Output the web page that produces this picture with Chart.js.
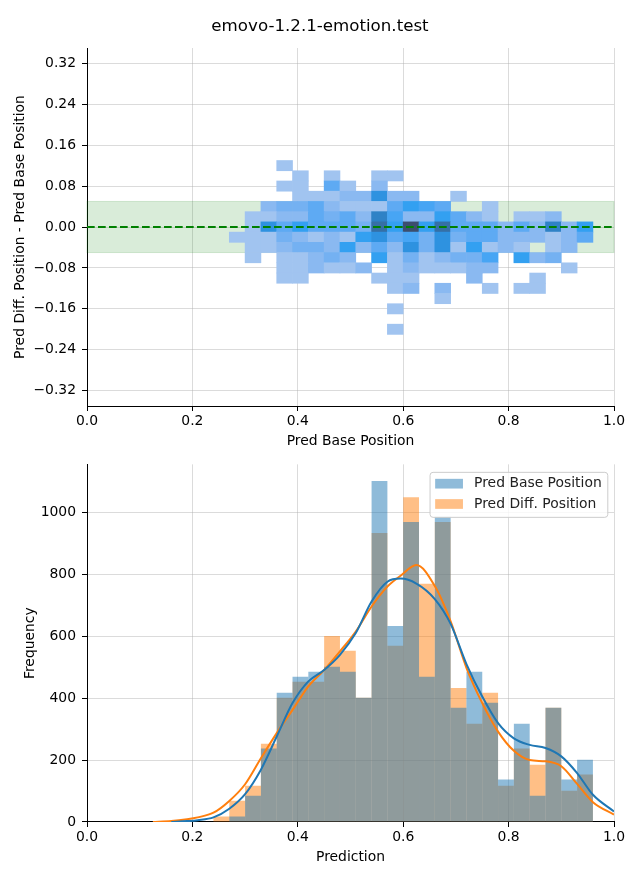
<!DOCTYPE html>
<html lang="en">
<head>
<meta charset="utf-8">
<title>emovo-1.2.1-emotion.test</title>
<script src="https://cdn.jsdelivr.net/npm/chart.js@4.4.1/dist/chart.umd.min.js"></script>
<style>
  body { margin: 0; background: #fff; }
  #figure { position: relative; width: 640px; height: 880px; }
  #figure canvas { position: absolute; left: 0; }
  #diffChart { top: 0; }
  #histChart { top: 450px; }
  #figTitle {
    position: absolute; left: 0; top: 16px; width: 640px;
    font: 16.67px/20px 'DejaVu Sans', sans-serif; color: #000;
    text-align: center; z-index: 2;
  }
</style>
</head>
<body>
<div id="figure">
  <canvas id="diffChart" width="640" height="450"></canvas>
  <canvas id="histChart" width="640" height="430"></canvas>
  <div id="figTitle"></div>
</div>
<script>
// ---- data ----
const figureTitle = "emovo-1.2.1-emotion.test";

// top panel: 2D histogram (bin centres)
const basePosBins = [0.285, 0.315, 0.345, 0.375, 0.405, 0.435, 0.465, 0.495, 0.525, 0.555, 0.585, 0.615,
  0.645, 0.675, 0.705, 0.735, 0.765, 0.795, 0.825, 0.855, 0.885, 0.915, 0.945];
const diffBins = [0.12, 0.10, 0.08, 0.06, 0.04, 0.02, 0.00, -0.02, -0.04, -0.06, -0.08, -0.10, -0.12,
  -0.14, -0.16, -0.18, -0.20];
// shade level of each cell (0 = empty), one row per diffBins entry, one column per basePosBins entry
const cellLevels = [
  [0, 0, 0, 1, 0, 0, 0, 0, 0, 0, 0, 0, 0, 0, 0, 0, 0, 0, 0, 0, 0, 0, 0],
  [0, 0, 0, 0, 1, 0, 1, 0, 0, 1, 1, 0, 0, 0, 0, 0, 0, 0, 0, 0, 0, 0, 0],
  [0, 0, 0, 1, 1, 0, 4, 1, 0, 2, 0, 0, 0, 0, 0, 0, 0, 0, 0, 0, 0, 0, 0],
  [0, 0, 0, 0, 1, 1, 1, 2, 2, 7, 2, 2, 0, 0, 1, 0, 0, 0, 0, 0, 0, 0, 0],
  [0, 0, 2, 3, 3, 4, 2, 1, 1, 1, 4, 6, 5, 4, 0, 0, 1, 0, 0, 0, 0, 0, 0],
  [0, 1, 1, 2, 2, 4, 3, 4, 2, 8, 5, 2, 2, 6, 4, 2, 1, 0, 1, 1, 2, 0, 0],
  [0, 1, 7, 4, 6, 4, 4, 4, 3, 9, 6, 10, 6, 9, 4, 4, 4, 2, 4, 2, 8, 2, 6],
  [1, 1, 1, 3, 2, 1, 2, 1, 6, 7, 4, 5, 3, 7, 3, 4, 4, 2, 2, 2, 1, 2, 4],
  [0, 1, 1, 2, 3, 3, 2, 6, 2, 4, 2, 7, 3, 7, 1, 6, 1, 2, 1, 0, 1, 2, 0],
  [0, 1, 0, 1, 1, 2, 3, 2, 0, 6, 1, 3, 1, 2, 3, 3, 5, 0, 6, 2, 3, 0, 0],
  [0, 0, 0, 1, 1, 2, 1, 1, 2, 0, 1, 2, 1, 1, 1, 2, 2, 0, 0, 0, 0, 1, 0],
  [0, 0, 0, 1, 1, 0, 0, 0, 0, 1, 1, 1, 0, 0, 0, 2, 0, 0, 0, 1, 0, 0, 0],
  [0, 0, 0, 0, 0, 0, 0, 0, 0, 0, 1, 2, 0, 2, 0, 0, 1, 0, 1, 1, 0, 0, 0],
  [0, 0, 0, 0, 0, 0, 0, 0, 0, 0, 0, 0, 0, 1, 0, 0, 0, 0, 0, 0, 0, 0, 0],
  [0, 0, 0, 0, 0, 0, 0, 0, 0, 0, 1, 0, 0, 0, 0, 0, 0, 0, 0, 0, 0, 0, 0],
  [0, 0, 0, 0, 0, 0, 0, 0, 0, 0, 0, 0, 0, 0, 0, 0, 0, 0, 0, 0, 0, 0, 0],
  [0, 0, 0, 0, 0, 0, 0, 0, 0, 0, 1, 0, 0, 0, 0, 0, 0, 0, 0, 0, 0, 0, 0],
];
const toleranceBand = [-0.05, 0.05];
const diffTicks = [-0.32, -0.24, -0.16, -0.08, 0, 0.08, 0.16, 0.24, 0.32];
const posTicks = [0, 0.2, 0.4, 0.6, 0.8, 1.0];

// bottom panel: histograms + kde
const predBins = [0.255, 0.285, 0.315, 0.345, 0.375, 0.405, 0.435, 0.465, 0.495, 0.525, 0.555, 0.585,
  0.615, 0.645, 0.675, 0.705, 0.735, 0.765, 0.795, 0.825, 0.855, 0.885, 0.915, 0.945];
const baseCounts = [0, 18, 85, 237, 417, 469, 485, 501, 485, 401, 1101, 633,
  969, 469, 986, 369, 485, 385, 137, 317, 85, 369, 137, 201];
const diffCounts = [18, 69, 117, 253, 401, 453, 453, 601, 553, 401, 933, 569,
  1049, 769, 969, 433, 317, 417, 117, 237, 185, 369, 101, 153];
const kdeX = [0.125, 0.16, 0.19, 0.21, 0.24, 0.27, 0.30, 0.33, 0.36, 0.39, 0.42, 0.45, 0.48, 0.51, 0.54,
  0.57, 0.595, 0.625, 0.66, 0.69, 0.72, 0.75, 0.78, 0.81, 0.84, 0.87, 0.90, 0.93, 0.96, 1.0];
const baseKde = [null, 0, 3, 6, 15, 43, 90, 169, 276, 384, 454, 491, 540, 610, 712,
  776, 786, 770, 720, 640, 510, 405, 319, 270, 249, 239, 212, 158, 88, 34];
const diffKde = [0, 3, 9, 15, 30, 68, 122, 206, 287, 362, 438, 491, 551, 615, 696,
  760, 795, 830, 762, 648, 498, 384, 292, 230, 200, 196, 180, 123, 64, 24];
const countTicks = [0, 200, 400, 600, 800, 1000];

// ---- styles ----
const fontFamily = "'DejaVu Sans', sans-serif";
const axisFont = { family: fontFamily, size: 13.9 };
const heatPalette = ['#a1c4f0', '#8ab9f1', '#74b1f2', '#5eaaf3', '#47a5f4', '#33a0f1',
  '#2e92e0', '#2f82c6', '#3570a6', '#3c4e6e'];
const gridColor = 'rgba(176,176,176,0.45)';

Chart.defaults.font.family = fontFamily;
Chart.defaults.color = '#000';

document.getElementById('figTitle').textContent = figureTitle;

function grid() {
  return { color: gridColor, lineWidth: 1, tickColor: '#000', tickLength: 5, tickWidth: 1, offset: false };
}

function useTicks(values) {
  return (scale) => { scale.ticks = values.map(v => ({ value: v })); };
}

// green band + dashed zero line
const bandPlugin = {
  id: 'bandPlugin',
  beforeDatasetsDraw(chart) {
    const { ctx, chartArea, scales } = chart;
    const top = scales.y.getPixelForValue(toleranceBand[1]);
    const bottom = scales.y.getPixelForValue(toleranceBand[0]);
    ctx.save();
    ctx.fillStyle = 'rgba(0,128,0,0.15)';
    ctx.strokeStyle = 'rgba(0,128,0,0.15)';
    ctx.lineWidth = 1;
    ctx.fillRect(chartArea.left, top, chartArea.width, bottom - top);
    ctx.strokeRect(chartArea.left, top, chartArea.width, bottom - top);
    ctx.restore();
  },
  afterDraw(chart) {
    const { ctx, chartArea, scales } = chart;
    const y0 = scales.y.getPixelForValue(0);
    ctx.save();
    ctx.beginPath();
    ctx.rect(chartArea.left, chartArea.top, chartArea.width, chartArea.height);
    ctx.clip();
    ctx.strokeStyle = '#008000';
    ctx.lineWidth = 2;
    ctx.setLineDash([7.7, 3.3]);
    ctx.beginPath();
    ctx.moveTo(chartArea.left, y0);
    ctx.lineTo(chartArea.right, y0);
    ctx.stroke();
    ctx.restore();
  }
};

// matplotlib style legend inside the upper right corner
const cornerLegend = {
  id: 'cornerLegend',
  afterDraw(chart) {
    const { ctx, chartArea } = chart;
    const entries = chart.data.datasets.filter(ds => ds.type !== 'line');
    ctx.save();
    ctx.font = axisFont.size + 'px ' + fontFamily;
    const textW = Math.max(...entries.map(e => ctx.measureText(e.label).width));
    const pad = 5.6, handle = 27.8, gap = 11.1, rowH = 20.3;
    const w = pad + handle + gap + textW + pad;
    const h = 45;
    const x0 = chartArea.right - 6.7 - w;
    const y0 = chartArea.top + 7.5;
    ctx.beginPath();
    ctx.roundRect(x0 + 0.5, y0 + 0.5, w, h, 3);
    ctx.fillStyle = 'rgba(255,255,255,0.8)';
    ctx.fill();
    ctx.strokeStyle = '#cccccc';
    ctx.lineWidth = 1;
    ctx.stroke();
    entries.forEach((e, i) => {
      const cy = y0 + 11.9 + i * rowH;
      ctx.fillStyle = e.backgroundColor;
      ctx.fillRect(x0 + pad, cy - 4.9, handle, 9.7);
      ctx.fillStyle = '#222';
      ctx.textBaseline = 'middle';
      ctx.textAlign = 'left';
      ctx.fillText(e.label, x0 + pad + handle + gap, cy);
    });
    ctx.restore();
  }
};

// ---- top chart: heat cells as floating bars ----
const halfRow = Math.abs(diffBins[0] - diffBins[1]) / 2;
const cells = [];
const cellColors = [];
cellLevels.forEach((row, r) => {
  row.forEach((level, c) => {
    if (!level) return;
    cells.push({ x: basePosBins[c], y: [diffBins[r] - halfRow, diffBins[r] + halfRow] });
    cellColors.push(heatPalette[level - 1]);
  });
});

new Chart(document.getElementById('diffChart'), {
  type: 'bar',
  data: {
    datasets: [{
      label: 'cells',
      data: cells,
      backgroundColor: cellColors,
      borderWidth: 0,
      barPercentage: 1,
      categoryPercentage: 1,
      grouped: false
    }]
  },
  options: {
    responsive: false,
    animation: false,
    devicePixelRatio: 1,
    events: [],
    layout: { padding: { left: 0, right: 26, top: 48, bottom: 0 } },
    plugins: {
      legend: { display: false },
      tooltip: { enabled: false }
    },
    scales: {
      x: {
        type: 'linear', min: 0, max: 1, offset: false, z: 1,
        grid: grid(),
        border: { color: '#000', width: 1 },
        afterBuildTicks: useTicks(posTicks),
        afterFit: (s) => { s.height = 44; },
        ticks: { font: axisFont, color: '#000', padding: 2, maxRotation: 0, callback: v => v.toFixed(1) },
        title: { display: true, text: 'Pred Base Position', font: axisFont, color: '#000', padding: { top: 0, bottom: 0.5 } }
      },
      y: {
        type: 'linear', min: -0.35, max: 0.35, z: 1,
        grid: grid(),
        border: { color: '#000', width: 1 },
        afterBuildTicks: useTicks(diffTicks),
        afterFit: (s) => { s.width = 87; },
        ticks: {
          font: axisFont, color: '#000', padding: 6,
          callback: v => (v < 0 ? '\u2212' : '') + Math.abs(v).toFixed(2)
        },
        title: { display: true, text: 'Pred Diff. Position - Pred Base Position', font: axisFont, color: '#000', padding: { top: 12.5, bottom: 0 } }
      }
    }
  },
  plugins: [bandPlugin]
});

// ---- bottom chart: histograms + kde ----
new Chart(document.getElementById('histChart'), {
  type: 'bar',
  data: {
    datasets: [
      {
        label: 'Pred Base Position',
        data: predBins.map((x, i) => ({ x, y: baseCounts[i] })),
        backgroundColor: 'rgba(31,119,180,0.5)',
        borderWidth: 0, barPercentage: 1, categoryPercentage: 1,
        grouped: false, inflateAmount: 0, order: 3
      },
      {
        label: 'Pred Diff. Position',
        data: predBins.map((x, i) => ({ x, y: diffCounts[i] })),
        backgroundColor: 'rgba(255,127,14,0.5)',
        borderWidth: 0, barPercentage: 1, categoryPercentage: 1,
        grouped: false, inflateAmount: 0, order: 4
      },
      {
        type: 'line',
        label: 'Pred Base Position KDE',
        data: kdeX.map((x, i) => ({ x, y: baseKde[i] })),
        borderColor: '#1f77b4', borderWidth: 2, pointRadius: 0,
        cubicInterpolationMode: 'monotone', fill: false, order: 1
      },
      {
        type: 'line',
        label: 'Pred Diff. Position KDE',
        data: kdeX.map((x, i) => ({ x, y: diffKde[i] })),
        borderColor: '#ff7f0e', borderWidth: 2, pointRadius: 0,
        cubicInterpolationMode: 'monotone', fill: false, order: 2
      }
    ]
  },
  options: {
    responsive: false,
    animation: false,
    devicePixelRatio: 1,
    events: [],
    layout: { padding: { left: 0, right: 26, top: 14, bottom: 0 } },
    plugins: { legend: { display: false }, tooltip: { enabled: false } },
    scales: {
      x: {
        type: 'linear', min: 0, max: 1, offset: false, z: 1,
        grid: grid(),
        border: { color: '#000', width: 1 },
        afterBuildTicks: useTicks(posTicks),
        afterFit: (s) => { s.height = 58; },
        ticks: { font: axisFont, color: '#000', padding: 2, maxRotation: 0, callback: v => v.toFixed(1) },
        title: { display: true, text: 'Prediction', font: axisFont, color: '#000', padding: { top: 0, bottom: 14.7 } }
      },
      y: {
        type: 'linear', min: 0, max: 1155, z: 1,
        grid: grid(),
        border: { color: '#000', width: 1 },
        afterBuildTicks: useTicks(countTicks),
        afterFit: (s) => { s.width = 87; },
        ticks: { font: axisFont, color: '#000', padding: 6, callback: v => String(v) },
        title: { display: true, text: 'Frequency', font: axisFont, color: '#000', padding: { top: 21.7, bottom: 0 } }
      }
    }
  },
  plugins: [cornerLegend]
});
</script>
</body>
</html>
